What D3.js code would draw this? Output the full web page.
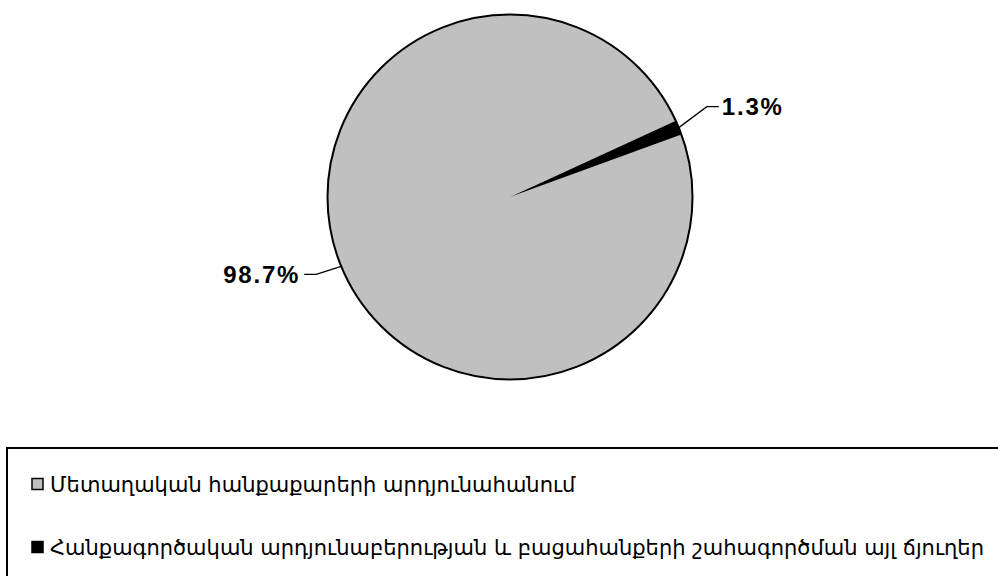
<!DOCTYPE html>
<html><head><meta charset="utf-8">
<script src="https://cdn.jsdelivr.net/npm/d3@7"></script>
<style>html,body{margin:0;padding:0;background:#fff;overflow:hidden}</style>
</head><body>
<svg id="c" width="998" height="576"></svg>
<script>
const categories = ["Մետաղական հանքաքարերի արդյունահանում", "Հանքագործական արդյունաբերության և բացահանքերի շահագործման այլ ճյուղեր"];
const values = [98.7, 1.3];
const labels = ["98.7%", "1.3%"];
const colors = ["#c0c0c0", "#000000"];

const svg = d3.select("#c");
const cx = 510, cy = 197, r = 182.5;
const start = 70 * Math.PI / 180;
const pie = d3.pie().sort(null).startAngle(start).endAngle(start + 2 * Math.PI);
const arcs = pie(values);
const arc = d3.arc().innerRadius(0).outerRadius(r);
const g = svg.append("g").attr("transform", `translate(${cx},${cy})`);
g.selectAll("path.s").data(arcs).join("path")
  .attr("d", arc).attr("fill", (d, i) => colors[i]).attr("stroke", "none");
g.append("circle").attr("r", r).attr("fill", "none").attr("stroke", "#000").attr("stroke-width", 2);

// leader lines & labels
const edge = d3.arc().innerRadius(r).outerRadius(r);
const offsets = [[-25, 8], [28, -21]];
arcs.forEach((d, i) => {
  const [ex, ey] = edge.centroid(d);
  const right = ex > 0;
  const bx = ex + offsets[i][0], by = ey + offsets[i][1];
  const hx = bx + (right ? 12 : -12);
  g.append("polyline").attr("points", `${ex},${ey} ${bx},${by} ${hx},${by}`)
    .attr("fill", "none").attr("stroke", "#000").attr("stroke-width", 1.3);
  g.append("text").attr("x", hx + (right ? 3 : -4)).attr("y", by)
    .attr("dy", "0.36em").attr("text-anchor", right ? "start" : "end")
    .attr("font-family", "Liberation Sans, Arial, sans-serif").attr("font-weight", "bold")
    .attr("font-size", 24).attr("letter-spacing", 1.8).text(labels[i]);
});

// legend
svg.append("rect").attr("x", 7).attr("y", 448).attr("width", 1100).attr("height", 200)
  .attr("fill", "#fff").attr("stroke", "#000").attr("stroke-width", 2);
const ly = [484, 547];
categories.forEach((c, i) => {
  svg.append("rect").attr("x", 32).attr("y", ly[i] - 5.5).attr("width", 11).attr("height", 11)
    .attr("fill", colors[i]).attr("stroke", "#000").attr("stroke-width", 1.5);
  svg.append("text").attr("x", 50).attr("y", ly[i]).attr("dy", "0.36em")
    .attr("font-family", "DejaVu Sans, Noto Sans, sans-serif").attr("font-size", 21)
    .text(c);
});
</script>
</body></html>
